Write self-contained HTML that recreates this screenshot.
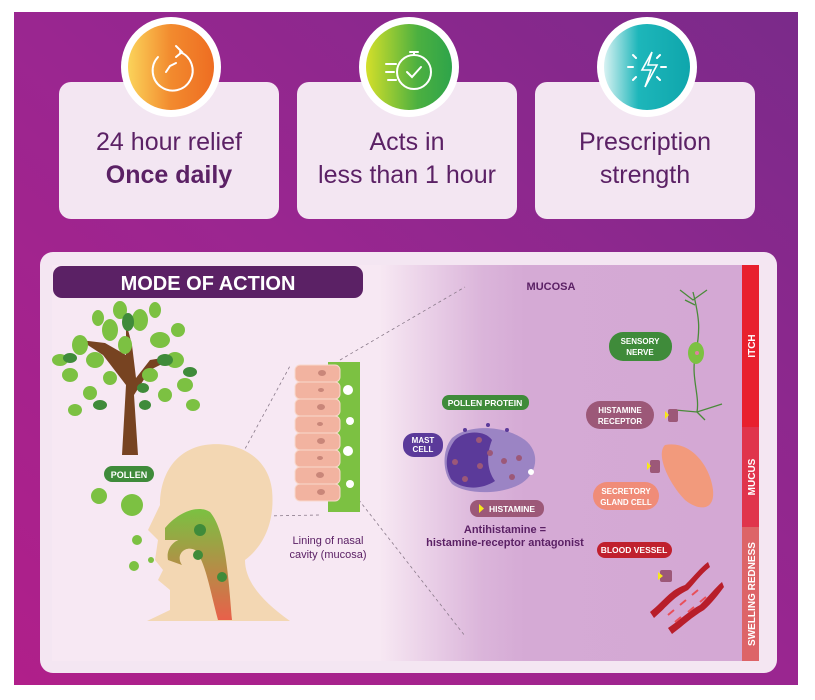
<!DOCTYPE html>
<html><head><meta charset="utf-8"><style>
html,body{margin:0;padding:0;background:#fff;width:815px;height:700px;overflow:hidden}
svg{display:block;font-family:"Liberation Sans",sans-serif}
</style></head><body>
<svg width="815" height="700" viewBox="0 0 815 700" xmlns="http://www.w3.org/2000/svg">
<defs>
<linearGradient id="bg" x1="0" y1="1" x2="1" y2="0">
<stop offset="0" stop-color="#b01f8a"/><stop offset="0.5" stop-color="#9a2690"/><stop offset="1" stop-color="#7a2a8a"/></linearGradient>
<linearGradient id="muc" x1="0" y1="0" x2="1" y2="0">
<stop offset="0" stop-color="#d6acd6" stop-opacity="0"/><stop offset="0.28" stop-color="#d6acd6" stop-opacity="0.85"/><stop offset="0.4" stop-color="#d5aad5"/><stop offset="1" stop-color="#d4a8d4"/></linearGradient>
<linearGradient id="or" x1="0" x2="1"><stop offset="0" stop-color="#fbd35a"/><stop offset="0.5" stop-color="#f28a2e"/><stop offset="1" stop-color="#ee6d22"/></linearGradient>
<linearGradient id="gr" x1="0" x2="1"><stop offset="0" stop-color="#d4df2a"/><stop offset="0.6" stop-color="#4cb040"/><stop offset="1" stop-color="#2ea44a"/></linearGradient>
<linearGradient id="te" x1="0" x2="1"><stop offset="0" stop-color="#d8f2f2"/><stop offset="0.4" stop-color="#1db6ba"/><stop offset="1" stop-color="#0fa6ac"/></linearGradient>
<linearGradient id="thr" x1="0" y1="0" x2="0" y2="1"><stop offset="0" stop-color="#7ac142"/><stop offset="1" stop-color="#e8604a"/></linearGradient>
</defs>
<rect x="14" y="12" width="784" height="673" fill="url(#bg)"/>
<g fill="#f3e6f2">
<rect x="59" y="82" width="220" height="137" rx="12"/>
<rect x="297" y="82" width="220" height="137" rx="12"/>
<rect x="535" y="82" width="220" height="137" rx="12"/>
</g>
<g fill="#fff"><circle cx="171" cy="67" r="50"/><circle cx="409" cy="67" r="50"/><circle cx="647" cy="67" r="50"/></g>
<circle cx="171" cy="67" r="43" fill="url(#or)"/>
<circle cx="409" cy="67" r="43" fill="url(#gr)"/>
<circle cx="647" cy="67" r="43" fill="url(#te)"/>
<g stroke="#fff" stroke-width="2" fill="none" stroke-linecap="round">
<path d="M180 52 A20 20 0 1 1 158 57"/><path d="M176 46 l6 6 -6 5"/><path d="M170 66 l-4 6 M170 66 l6 -3"/>
<circle cx="414" cy="72" r="17"/><path d="M407 72 l5 5 9 -10"/><path d="M410 52 h8 M414 52 v3"/><path d="M386 64 h10 M386 72 h8 M388 80 h8"/>
<path d="M652 52 l-10 18 h9 l-6 17 l12 -22 h-9 z" stroke-width="1.6"/><path d="M628 67 h5 M661 67 h5 M633 55 l3 3 M660 55 l-3 3 M633 80 l3 -3 M660 80 l-3 -3"/>
</g>
<g fill="#5b2165" text-anchor="middle" font-size="25">
<text x="169" y="150">24 hour relief</text><text x="169" y="183" font-weight="bold">Once daily</text>
<text x="407" y="150">Acts in</text><text x="407" y="183">less than 1 hour</text>
<text x="645" y="150">Prescription</text><text x="645" y="183">strength</text>
</g>
<rect x="40" y="252" width="737" height="421" rx="13" fill="#f4e6f2"/>
<rect x="52" y="265" width="690" height="396" fill="#f7e8f3"/>
<rect x="380" y="265" width="362" height="396" fill="url(#muc)"/>
<rect x="742" y="265" width="17" height="162" fill="#e8202e"/>
<rect x="742" y="427" width="17" height="100" fill="#e0344c"/>
<rect x="742" y="527" width="17" height="134" fill="#dd6468"/>
<g fill="#fff" font-size="10" font-weight="bold">
<text transform="translate(755,346) rotate(-90)" text-anchor="middle">ITCH</text>
<text transform="translate(755,477) rotate(-90)" text-anchor="middle">MUCUS</text>
<text transform="translate(755,594) rotate(-90)" text-anchor="middle">SWELLING REDNESS</text>
</g>
<rect x="53" y="266" width="310" height="32" rx="9" fill="#5b2165"/>
<text x="208" y="290" fill="#fff" font-size="20" font-weight="bold" text-anchor="middle">MODE OF ACTION</text>
<text x="551" y="290" fill="#5b2165" font-size="11" font-weight="bold" text-anchor="middle">MUCOSA</text>
<g stroke="#8a7a8a" stroke-dasharray="3,3" fill="none" stroke-width="0.8">
<path d="M208 517 L290 366"/><path d="M208 517 L320 515"/><path d="M340 360 L465 287"/><path d="M355 495 L465 636"/>
</g>
<!-- tree -->
<path d="M122 455 L138 455 L134 395 L150 370 L180 355 L150 360 L136 378 L132 345 L126 322 L126 355 L105 343 L80 340 L103 355 L126 385 Z" fill="#774321"/>
<g fill="#7cc142">
<ellipse cx="110" cy="330" rx="8" ry="11"/><ellipse cx="140" cy="320" rx="8" ry="11"/><ellipse cx="160" cy="340" rx="10" ry="8"/>
<ellipse cx="80" cy="345" rx="8" ry="10"/><ellipse cx="175" cy="360" rx="9" ry="8"/><ellipse cx="95" cy="360" rx="9" ry="8"/>
<ellipse cx="125" cy="345" rx="7" ry="9"/><ellipse cx="150" cy="375" rx="8" ry="7"/><ellipse cx="70" cy="375" rx="8" ry="7"/>
<ellipse cx="185" cy="385" rx="8" ry="7"/><ellipse cx="110" cy="378" rx="7" ry="7"/><ellipse cx="165" cy="395" rx="7" ry="7"/>
<ellipse cx="90" cy="393" rx="7" ry="7"/><ellipse cx="120" cy="310" rx="7" ry="9"/><ellipse cx="155" cy="310" rx="6" ry="8"/>
<ellipse cx="98" cy="318" rx="6" ry="8"/><ellipse cx="178" cy="330" rx="7" ry="7"/><ellipse cx="60" cy="360" rx="8" ry="6"/><ellipse cx="75" cy="410" rx="7" ry="6"/><ellipse cx="193" cy="405" rx="7" ry="6"/>
</g>
<g fill="#3f8b3a"><ellipse cx="128" cy="322" rx="6" ry="9"/><ellipse cx="165" cy="360" rx="8" ry="6"/><ellipse cx="70" cy="358" rx="7" ry="5"/><ellipse cx="100" cy="405" rx="7" ry="5"/><ellipse cx="143" cy="388" rx="6" ry="5"/><ellipse cx="190" cy="372" rx="7" ry="5"/><ellipse cx="145" cy="405" rx="6" ry="5"/></g>
<rect x="104" y="466" width="50" height="16" rx="8" fill="#3f8b3a"/>
<text x="129" y="478" fill="#fff" font-size="9" font-weight="bold" text-anchor="middle">POLLEN</text>
<g fill="#7cc142"><circle cx="99" cy="496" r="8"/><circle cx="132" cy="505" r="11"/><circle cx="137" cy="540" r="5"/><circle cx="134" cy="566" r="5"/><circle cx="151" cy="560" r="3"/></g>
<path d="M147 621 L290 621 C260 600 245 580 245 560 C265 545 275 520 272 490 C268 455 235 440 205 445 C175 450 160 475 160 505 L148 530 L158 540 L155 560 L163 570 L158 580 L170 590 L170 610 Z" fill="#f3d7b3"/>
<path d="M165 528 C180 510 200 505 210 512 C225 530 228 570 232 620 L218 620 C210 590 205 560 195 550 C185 545 175 555 182 565 L168 560 C165 545 180 535 190 540 L165 540 Z" fill="url(#thr)"/>
<g fill="#3f8b3a"><circle cx="200" cy="530" r="6"/><circle cx="198" cy="555" r="5"/><circle cx="222" cy="577" r="5"/></g>
<rect x="328" y="362" width="32" height="150" fill="#7cc142"/>
<g fill="#f2b3a0" stroke="#f8d8cc" stroke-width="1">
<rect x="295" y="365" width="45" height="17" rx="5"/><rect x="295" y="382" width="45" height="17" rx="5"/><rect x="295" y="399" width="45" height="17" rx="5"/>
<rect x="295" y="416" width="45" height="17" rx="5"/><rect x="295" y="433" width="45" height="17" rx="5"/><rect x="295" y="450" width="45" height="17" rx="5"/>
<rect x="295" y="467" width="45" height="17" rx="5"/><rect x="295" y="484" width="45" height="17" rx="5"/>
</g>
<g fill="#c98679"><ellipse cx="322" cy="373" rx="4" ry="3"/><ellipse cx="321" cy="390" rx="3" ry="2"/><ellipse cx="321" cy="407" rx="4" ry="3"/><ellipse cx="320" cy="424" rx="3" ry="2"/><ellipse cx="321" cy="441" rx="4" ry="3"/><ellipse cx="320" cy="458" rx="3" ry="2"/><ellipse cx="320" cy="475" rx="4" ry="3"/><ellipse cx="321" cy="492" rx="4" ry="3"/></g>
<g fill="#fff"><circle cx="348" cy="390" r="5"/><circle cx="350" cy="421" r="4"/><circle cx="348" cy="451" r="5"/><circle cx="350" cy="484" r="4"/></g>
<g fill="#5b2165" font-size="11" text-anchor="middle"><text x="328" y="544">Lining of nasal</text><text x="328" y="558">cavity (mucosa)</text></g>
<!-- mast cell -->
<path d="M452 438 C468 424 505 425 525 440 C540 452 538 472 522 483 C505 494 468 496 452 484 C442 472 442 450 452 438 Z" fill="#9b84c4"/>
<path d="M455 440 C465 430 485 430 492 440 C486 455 487 470 495 481 C480 491 460 489 451 479 C444 465 446 452 455 440 Z" fill="#5b3a9a"/>
<g fill="#9c5878"><circle cx="479" cy="440" r="3"/><circle cx="490" cy="453" r="3"/><circle cx="504" cy="461" r="3"/><circle cx="519" cy="458" r="3"/><circle cx="512" cy="477" r="3"/><circle cx="465" cy="479" r="3"/><circle cx="480" cy="466" r="3"/><circle cx="455" cy="462" r="3"/></g>
<circle cx="531" cy="472" r="3" fill="#fff"/>
<g fill="#5b3a9a"><circle cx="465" cy="430" r="2"/><circle cx="488" cy="425" r="2"/><circle cx="507" cy="430" r="2"/></g>
<rect x="442" y="395" width="87" height="15" rx="7" fill="#3f8b3a"/>
<text x="485" y="406" fill="#fff" font-size="8.5" font-weight="bold" text-anchor="middle">POLLEN PROTEIN</text>
<rect x="403" y="433" width="40" height="24" rx="11" fill="#5b3a9a"/>
<g fill="#fff" font-size="8" font-weight="bold" text-anchor="middle"><text x="423" y="443">MAST</text><text x="423" y="452">CELL</text></g>
<rect x="470" y="500" width="74" height="17" rx="8" fill="#9c5878"/>
<path d="M479 504 l5 4.5 -5 4.5 z" fill="#f7e81a"/>
<text x="512" y="512" fill="#fff" font-size="8.5" font-weight="bold" text-anchor="middle">HISTAMINE</text>
<g fill="#5b2165" font-size="11" font-weight="bold" text-anchor="middle"><text x="505" y="533">Antihistamine =</text><text x="505" y="546">histamine-receptor antagonist</text></g>
<g stroke="#4a8a3a" fill="none" stroke-width="1.3">
<path d="M693 292 C700 320 700 330 696 353 C690 375 700 395 697 412"/>
<path d="M680 290 l13 10 l14 -10 M685 300 l10 5 M675 410 l22 2 l25 -8 M705 420 l-8 -8"/>
</g>
<ellipse cx="696" cy="353" rx="8" ry="11" fill="#7cc142"/>
<circle cx="697" cy="353" r="2" fill="#e080a0"/>
<rect x="609" y="332" width="63" height="29" rx="14" fill="#3f8b3a"/>
<g fill="#fff" font-size="8" font-weight="bold" text-anchor="middle"><text x="640" y="344">SENSORY</text><text x="640" y="355">NERVE</text></g>
<rect x="586" y="401" width="68" height="28" rx="14" fill="#9c5878"/>
<g fill="#fff" font-size="8" font-weight="bold" text-anchor="middle"><text x="620" y="413">HISTAMINE</text><text x="620" y="424">RECEPTOR</text></g>
<rect x="668" y="409" width="10" height="13" rx="2" fill="#9c5878"/><path d="M665 411 l4 4 -4 4 z" fill="#f7e81a"/>
<path d="M665 445 C690 440 710 465 713 490 C715 510 700 512 685 500 C670 485 655 455 665 445 Z" fill="#f29a7c"/>
<rect x="650" y="460" width="10" height="13" rx="2" fill="#9c5878"/><path d="M647 462 l4 4 -4 4 z" fill="#f7e81a"/>
<rect x="593" y="482" width="66" height="28" rx="14" fill="#f08c78"/>
<g fill="#fff" font-size="8" font-weight="bold" text-anchor="middle"><text x="626" y="494">SECRETORY</text><text x="626" y="505">GLAND CELL</text></g>
<rect x="597" y="542" width="75" height="16" rx="8" fill="#c0202e"/>
<text x="634" y="553" fill="#fff" font-size="8.5" font-weight="bold" text-anchor="middle">BLOOD VESSEL</text>
<path d="M650 612 C665 600 670 590 685 585 C695 575 700 568 708 562 L710 567 C700 575 695 583 688 590 C672 598 668 606 654 618 Z M668 628 C680 620 690 610 700 605 C710 595 715 588 722 582 L724 587 C718 595 712 603 704 610 C692 617 684 625 672 634 Z" fill="#b81e2a"/>
<path d="M668 615 l6 -5 M680 605 l6 -5 M692 595 l6 -5 M675 622 l6 -5 M688 612 l6 -5 M700 602 l6 -5" stroke="#e8505a" stroke-width="2"/>
<rect x="660" y="570" width="12" height="12" rx="2" fill="#9c5878"/><path d="M658 572 l5 4 -5 4 z" fill="#f7e81a"/>
</svg>
</body></html>
